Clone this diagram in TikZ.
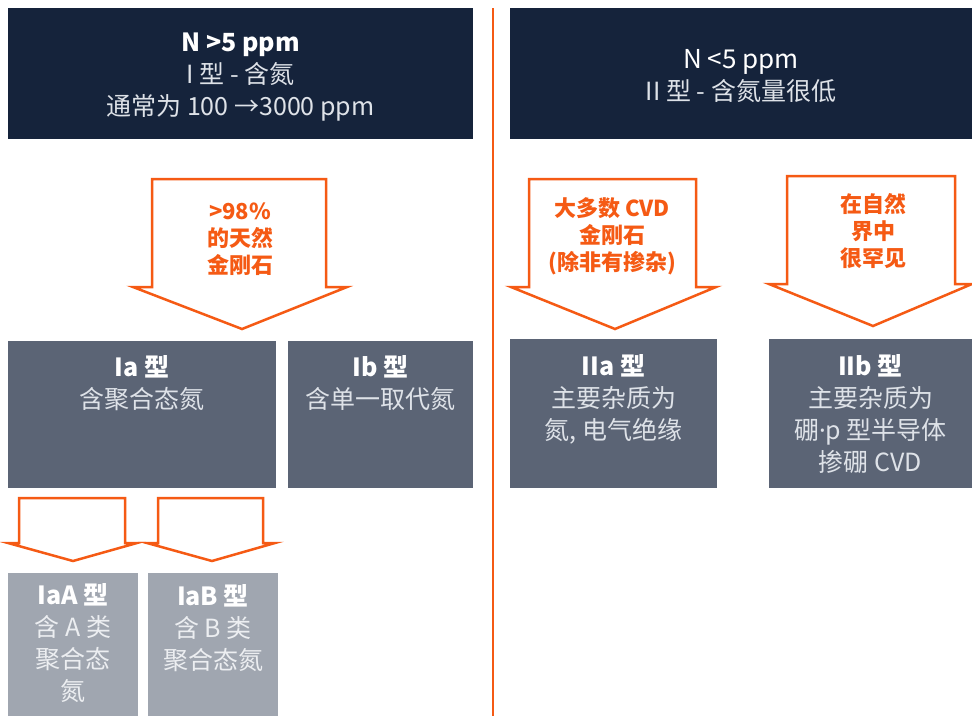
\documentclass[tikz,border=0pt]{standalone}
\usepackage{fontspec}
\setmainfont{Noto Sans CJK SC}
\newfontfamily\latinfont{Noto Sans}
\definecolor{navy}{RGB}{21,35,59}
\definecolor{midgray}{RGB}{91,100,117}
\definecolor{lightgray}{RGB}{160,166,176}
\definecolor{orng}{RGB}{245,90,20}
\definecolor{softwhite}{RGB}{222,226,232}
\definecolor{paletext}{RGB}{236,238,241}
\tikzset{
  topbox/.style={fill=navy, draw=none, inner sep=0pt},
  midbox/.style={fill=midgray, draw=none, inner sep=0pt},
  lowbox/.style={fill=lightgray, draw=none, inner sep=0pt},
  boxtext/.style={align=center, inner sep=0pt, anchor=base, font=\fontsize{25}{32}\selectfont},
  arrowtext/.style={align=center, inner sep=0pt, anchor=base, text=orng, font=\bfseries\fontsize{22}{27}\selectfont},
  blockarrow/.style={draw=orng, fill=white, line width=2.5pt, line join=miter},
}
\begin{document}
\begin{tikzpicture}[x=1pt,y=-1pt]
\useasboundingbox (0,0) rectangle (972,716);
% top boxes
\node[topbox, minimum width=465pt, minimum height=131pt] (topL) at (240.5,73.5) {};
\node[topbox, minimum width=462pt, minimum height=131pt] (topR) at (741,73.5) {};
\node[boxtext, text=white] (topLt) at (240.5,115) {\textbf{N >5 ppm}\\{\color{softwhite}I 型 - 含氮}\\{\color{softwhite}通常为 100 →3000 ppm}};
\node[boxtext, text=white] (topRt) at (741,100) {\fontsize{26}{32}\selectfont N <5 ppm\\{\color{softwhite}II 型 - 含氮量很低}};
% divider
\coordinate (divT) at (493,8);
\coordinate (divB) at (493,716);
\draw[orng, line width=2.5pt] (divT) -- (divB);
% big arrows
\draw[blockarrow] (152,179) -- (326,179) -- (326,287) -- (347,287) -- (242,329) -- (133,287) -- (152,287) -- cycle;
\node[arrowtext] (a1t) at (240,273) {>98\%\\的天然\\金刚石};
\draw[blockarrow] (529,179) -- (696,179) -- (696,287) -- (716,287) -- (615,329) -- (511,287) -- (529,287) -- cycle;
\node[arrowtext] (a2t) at (612,270) {大多数 CVD\\金刚石\\(除非有掺杂)};
\draw[blockarrow] (787,176) -- (955,176) -- (955,284) -- (972,284) -- (873,326) -- (769,284) -- (787,284) -- cycle;
\node[arrowtext] (a3t) at (873,266) {在自然\\界中\\很罕见};
% mid boxes
\node[midbox, minimum width=268pt, minimum height=147pt] (Ia) at (142,414.5) {};
\node[midbox, minimum width=185pt, minimum height=147pt] (Ib) at (380.5,414.5) {};
\node[midbox, minimum width=207pt, minimum height=149pt] (IIa) at (613.5,413.5) {};
\node[midbox, minimum width=203pt, minimum height=149pt] (IIb) at (870.5,413.5) {};
\node[boxtext, text=white] (Iat) at (142,408) {\textbf{Ia 型}\\{\color{softwhite}含聚合态氮}};
\node[boxtext, text=white] (Ibt) at (380.5,408) {\textbf{Ib 型}\\{\color{softwhite}含单一取代氮}};
\node[boxtext, text=white] (IIat) at (613.5,439) {\textbf{IIa 型}\\{\color{softwhite}主要杂质为}\\{\color{softwhite}氮, 电气绝缘}};
\node[boxtext, text=white] (IIbt) at (870.5,471) {\textbf{IIb 型}\\{\color{softwhite}主要杂质为}\\{\color{softwhite}硼{\latinfont ·}p 型半导体}\\{\color{softwhite}掺硼 CVD}};
% small arrows
\draw[blockarrow] (19,498) -- (125,498) -- (125,543) -- (137,543) -- (73,561) -- (8,543) -- (19,543) -- cycle;
\draw[blockarrow] (158,498) -- (263,498) -- (263,543) -- (275,543) -- (212,561) -- (147,543) -- (158,543) -- cycle;
% low boxes
\node[lowbox, minimum width=130pt, minimum height=143pt] (IaA) at (73,644.5) {};
\node[lowbox, minimum width=130pt, minimum height=143pt] (IaB) at (213,644.5) {};
\node[boxtext, text=white] (IaAt) at (73,700) {\textbf{IaA 型}\\{\color{paletext}含 A 类}\\{\color{paletext}聚合态}\\{\color{paletext}氮}};
\node[boxtext, text=white] (IaBt) at (213,669) {\textbf{IaB 型}\\{\color{paletext}含 B 类}\\{\color{paletext}聚合态氮}};
\end{tikzpicture}
\end{document}
